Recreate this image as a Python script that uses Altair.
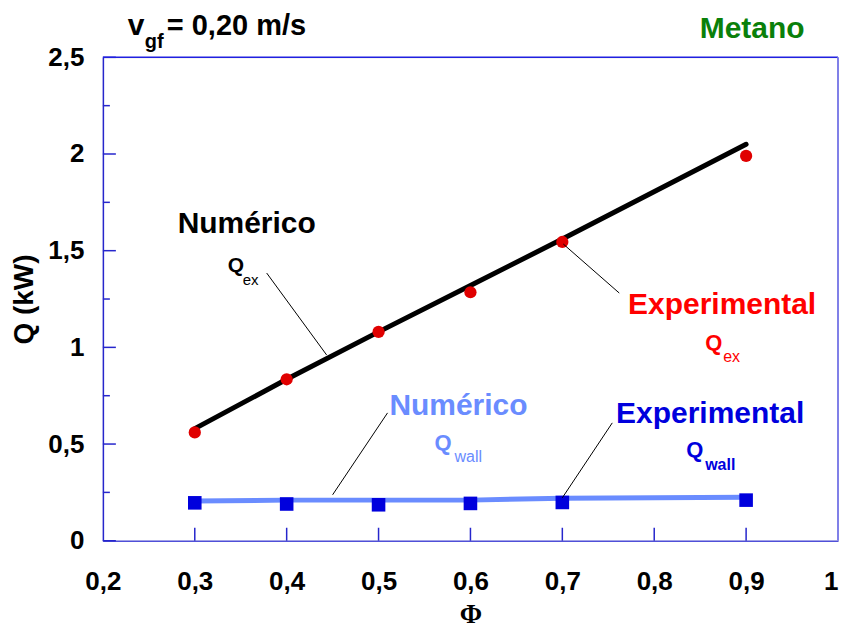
import altair as alt
import pandas as pd

# ---- data ----
phi = [0.3, 0.4, 0.5, 0.6, 0.7, 0.9]
qex_num = [0.58, 0.835, 1.08, 1.32, 1.56, 2.05]
qex_exp = [0.56, 0.835, 1.08, 1.285, 1.545, 1.99]
qwall_num = [0.205, 0.21, 0.21, 0.21, 0.22, 0.225]
qwall_exp = [0.196, 0.19, 0.186, 0.193, 0.198, 0.21]

x_tick_labels = [0.2, 0.3, 0.4, 0.5, 0.6, 0.7, 0.8, 0.9, 1.0]
y_tick_labels = [0, 0.5, 1, 1.5, 2, 2.5]
x_major_ticks = [0.3, 0.4, 0.5, 0.6, 0.7, 0.8, 0.9]
y_major_ticks = [0, 0.5, 1, 1.5, 2, 2.5]
y_minor_ticks = [0.25, 0.75, 1.25, 1.75, 2.25]

W, H = 736, 484
SANS = "Liberation Sans"
SERIF = "Liberation Serif"
AXIS_BLUE = "#2626cc"

df_num_ex = pd.DataFrame({"phi": phi, "q": qex_num})
df_exp_ex = pd.DataFrame({"phi": phi, "q": qex_exp})
df_num_wall = pd.DataFrame({"phi": phi, "q": qwall_num})
df_exp_wall = pd.DataFrame({"phi": phi, "q": qwall_exp})

lbl = "replace(format(datum.value, '~g'), '.', ',')"

xscale = alt.Scale(domain=[0.2, 1.0], nice=False, zero=False)
yscale = alt.Scale(domain=[0, 2.5], nice=False)

xenc = alt.X("phi:Q", scale=xscale, axis=alt.Axis(
    values=x_tick_labels, labelExpr=lbl, ticks=False, grid=False,
    domainColor="#5050d8", domainWidth=1.5,
    labelFont=SANS, labelFontSize=26, labelFontWeight="bold", labelColor="black",
    labelPadding=28, labelFlush=False,
    labelAlign={"condition": {"test": "datum.value >= 1", "value": "right"},
                "value": "center"},
    title="Φ", titleFont=SERIF, titleFontSize=27, titleFontWeight="bold",
    titleColor="black", titleX=W / 2, titleY=74, titleBaseline="middle",
    titleAlign="center"))
yenc = alt.Y("q:Q", scale=yscale, axis=alt.Axis(
    values=y_tick_labels, labelExpr=lbl, ticks=False, grid=False,
    domainColor=AXIS_BLUE, domainWidth=1.5,
    labelFont=SANS, labelFontSize=26, labelFontWeight="bold", labelColor="black",
    labelPadding=19, labelFlush=False,
    title="Q (kW)", titleFont=SANS, titleFontSize=28, titleFontWeight="bold",
    titleColor="black", titleX=-78, titleY=H / 2, titleAngle=-90,
    titleBaseline="middle", titleAlign="center"))

base_line_ex = alt.Chart(df_num_ex).mark_line(
    color="black", strokeWidth=5, strokeCap="round").encode(x=xenc, y=yenc)
line_wall = alt.Chart(df_num_wall).mark_line(
    color="#6a8cff", strokeWidth=5).encode(
    x=alt.X("phi:Q", scale=xscale), y=alt.Y("q:Q", scale=yscale))
pts_ex = alt.Chart(df_exp_ex).mark_point(
    shape="circle", filled=True, color="#e00000", opacity=1, size=150).encode(
    x=alt.X("phi:Q", scale=xscale), y=alt.Y("q:Q", scale=yscale))
pts_wall = alt.Chart(df_exp_wall).mark_point(
    shape="square", filled=True, color="#0000dd", opacity=1, size=185).encode(
    x=alt.X("phi:Q", scale=xscale), y=alt.Y("q:Q", scale=yscale))

# inward ticks
xt = alt.Chart(pd.DataFrame({"t": x_major_ticks})).mark_rule(
    color=AXIS_BLUE, strokeWidth=1.5).encode(
    x=alt.X("t:Q", scale=xscale), y=alt.value(H - 13), y2=alt.value(H))
ytm = alt.Chart(pd.DataFrame({"t": y_major_ticks})).mark_rule(
    color=AXIS_BLUE, strokeWidth=1.5).encode(
    y=alt.Y("t:Q", scale=yscale), x=alt.value(0), x2=alt.value(13))
ytn = alt.Chart(pd.DataFrame({"t": y_minor_ticks})).mark_rule(
    color=AXIS_BLUE, strokeWidth=1.5).encode(
    y=alt.Y("t:Q", scale=yscale), x=alt.value(0), x2=alt.value(7))

one = alt.Data(values=[{}])


def rule(x1, y1, x2, y2, color="black", width=1.0):
    return alt.Chart(one).mark_rule(color=color, strokeWidth=width).encode(
        x=alt.value(x1), y=alt.value(y1), x2=alt.value(x2), y2=alt.value(y2))


def text(t, x, y, size, color, weight="bold", align="left", font=SANS):
    return alt.Chart(one).mark_text(
        text=t, fontSize=size, color=color, fontWeight=weight, align=align,
        baseline="alphabetic", font=font).encode(x=alt.value(x), y=alt.value(y))


frame = [
    rule(0, 0, W, 0, color="#2020e0", width=1.5),
    rule(W, 0, W, H, color="#8080e8", width=2),
]

leaders = [
    rule(164, 216, 224, 298),
    rule(461, 187, 517, 236),
    rule(285, 356, 230, 438),
    rule(510, 366, 460, 441),
]

LB = "#6a8cff"
annots = [
    text("v", 25, -22, 30, "black"),
    text("gf", 42, -9, 20, "black"),
    text("= 0,20 m/s", 64, -22, 29, "black"),
    text("Metano", 650, -19, 30, "#0a800a", align="center"),
    text("Numérico", 144, 176, 30, "black", align="center"),
    text("Q", 125, 215, 21, "black"),
    text("ex", 140, 228, 15, "black", weight="normal"),
    text("Experimental", 620, 257, 30, "#ff0000", align="center"),
    text("Q", 603, 293, 22, "#ff0000"),
    text("ex", 621, 305, 16, "#ff0000", weight="normal"),
    text("Numérico", 356, 358, 30, LB, align="center"),
    text("Q", 332, 393, 22, LB),
    text("wall", 352, 405, 16, LB, weight="normal"),
    text("Experimental", 608, 366, 30, "#0000dd", align="center"),
    text("Q", 584, 400, 22, "#0000dd"),
    text("wall", 603, 413, 16, "#0000dd"),
]

chart = alt.layer(
    base_line_ex, line_wall, pts_ex, pts_wall, xt, ytm, ytn,
    *frame, *leaders, *annots
).properties(
    width=W, height=H,
    autosize=alt.AutoSizeParams(type="none"),
    padding={"left": 95, "top": 49, "right": 1, "bottom": 90},
).configure_view(stroke=None).configure(background="white")

chart.save("out.html", embed_options={"renderer": "svg", "actions": False})
